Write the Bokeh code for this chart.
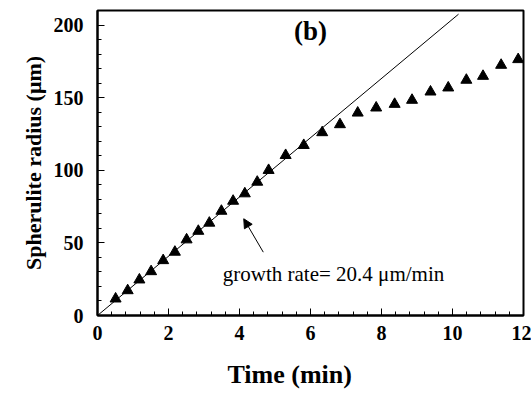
from bokeh.plotting import figure
from bokeh.models import Range1d, Arrow, NormalHead, SingleIntervalTicker, Label, Title
from bokeh.embed import file_html
from bokeh.resources import INLINE

# Data
time_min = [0.51, 0.85, 1.18, 1.51, 1.85, 2.18, 2.51, 2.84, 3.15, 3.49, 3.82, 4.15, 4.50, 4.82,
            5.30, 5.81, 6.33, 6.83, 7.33, 7.85, 8.37, 8.86, 9.38, 9.88, 10.39, 10.86, 11.37, 11.85]
radius_um = [11.5, 17.2, 24.6, 30.3, 37.9, 43.7, 52.2, 58.1, 63.7, 71.9, 78.8, 83.9, 91.9, 100.0,
             110.3, 117.2, 126.0, 131.5, 139.5, 143.0, 145.5, 148.3, 154.0, 156.8, 162.1, 164.8, 172.4, 176.3]
growth_rate = 20.4
fit_t = [0.0, 10.17]
fit_r = [growth_rate * t for t in fit_t]

x_title = "Time (min)"
y_title = "Spherulite radius (μm)"
annot_text = "growth rate= 20.4 μm/min"
annot_pos = (3.53, 28.7)
arrow_start = (4.67, 43.6)
arrow_end = (4.12, 66.6)
panel_label = "(b)"
panel_pos = (6.0, 195.6)

SERIF = "Liberation Serif"

p = figure(width=531, height=403, output_backend="svg", toolbar_location=None,
           x_range=Range1d(0, 12), y_range=Range1d(0, 210),
           min_border_left=97, min_border_right=8, min_border_top=10, min_border_bottom=88)
p.background_fill_color = "white"
p.border_fill_color = "white"
p.outline_line_color = "black"
p.outline_line_width = 2
p.xgrid.visible = False
p.ygrid.visible = False

p.line(fit_t, fit_r, line_color="black", line_width=1)
p.scatter(time_min, radius_um, marker="triangle", size=11, fill_color="black", line_color="black")

p.add_layout(Arrow(end=NormalHead(size=9, fill_color="black", line_color="black", line_width=1),
                   x_start=arrow_start[0], y_start=arrow_start[1],
                   x_end=arrow_end[0], y_end=arrow_end[1], line_color="black", line_width=1))
p.add_layout(Label(x=annot_pos[0], y=annot_pos[1], text=annot_text, text_font=SERIF,
                   text_font_size="21px", text_color="black", text_baseline="alphabetic"))
p.add_layout(Label(x=panel_pos[0], y=panel_pos[1], text=panel_label, text_font=SERIF,
                   text_font_size="27px", text_font_style="bold", text_color="black",
                   text_align="center", text_baseline="middle"))

p.xaxis.ticker = SingleIntervalTicker(interval=2, num_minor_ticks=5)
p.yaxis.ticker = SingleIntervalTicker(interval=50, num_minor_ticks=5)
for ax in (p.xaxis[0], p.yaxis[0]):
    ax.axis_line_color = "black"
    ax.axis_line_width = 2
    ax.major_tick_in = 7
    ax.major_tick_out = 0
    ax.minor_tick_in = 4
    ax.minor_tick_out = 0
    ax.major_tick_line_color = "black"
    ax.minor_tick_line_color = "black"
    ax.major_label_text_font = SERIF
    ax.major_label_text_font_style = "bold"
    ax.major_label_text_font_size = "20px"
    ax.major_label_text_color = "black"

p.xaxis.major_label_standoff = 10
p.yaxis.major_label_standoff = 14

# axis titles as side titles so they can be offset like the reference
p.add_layout(Title(text=y_title, align="center", offset=14, standoff=10,
                   text_font=SERIF, text_font_size="22px", text_font_style="bold",
                   text_color="black"), "left")
p.add_layout(Title(text=x_title, align="left", offset=130, standoff=30,
                   text_font=SERIF, text_font_size="26px", text_font_style="bold",
                   text_color="black"), "below")

open("out.html", "w").write(file_html(p, INLINE))
